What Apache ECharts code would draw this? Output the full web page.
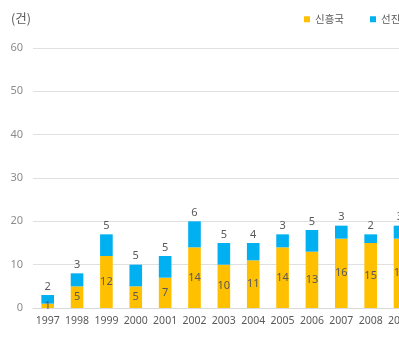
<!DOCTYPE html>
<html>
<head>
<meta charset="utf-8">
<script src="https://cdn.jsdelivr.net/npm/echarts@6/dist/echarts.min.js"></script>
<style>
html,body{margin:0;padding:0;background:#fff;overflow:hidden;}
#c{width:430px;height:342px;}
</style>
</head>
<body>
<div id="c"></div>
<script>
const categories = ['1997','1998','1999','2000','2001','2002','2003','2004','2005','2006','2007','2008','2009'];
const emerging = [1,5,12,5,7,14,10,11,14,13,16,15,16];
const advanced = [2,3,5,5,5,6,5,4,3,5,3,2,3];
const seriesNames = ['신흥국','선진국'];
const yTicks = {min:0, max:60, interval:10};
const unitLabel = '(건)';

const chart = echarts.init(document.getElementById('c'), null, {renderer:'canvas'});
const numFont = "'Noto Sans','Noto Sans CJK KR',sans-serif";
const krFont = "'Noto Sans CJK KR','Noto Sans',sans-serif";
chart.setOption({
  animation:false,
  backgroundColor:'#fff',
  title:{text:unitLabel,left:6,top:7,textStyle:{fontFamily:krFont,fontSize:12.5,fontWeight:'normal',color:'#595959'}},
  legend:{
    left:299, top:9, itemWidth:6, itemHeight:6, itemGap:26, icon:'rect',
    textStyle:{fontFamily:krFont,fontSize:10.5,color:'#595959'},
    data:seriesNames
  },
  grid:{left:33, top:48, width:381.7, height:260},
  xAxis:{
    type:'category', data:categories,
    axisLine:{show:true,lineStyle:{color:'#d9d9d9'}},
    axisTick:{show:false},
    axisLabel:{interval:0,margin:8,fontFamily:numFont,fontSize:10.5,color:'#595959'}
  },
  yAxis:{
    type:'value', min:yTicks.min, max:yTicks.max, interval:yTicks.interval,
    axisLine:{show:false}, axisTick:{show:false},
    splitLine:{lineStyle:{color:'#e0e0e0'}},
    axisLabel:{margin:10,fontFamily:numFont,fontSize:11,color:'#8c8c8c'}
  },
  series:[
    {name:seriesNames[0],type:'bar',stack:'a',data:emerging,barWidth:'43%',
     itemStyle:{color:'#FFC000'},
     label:{show:true,position:'inside',fontFamily:numFont,fontSize:11,color:'#595959'}},
    {name:seriesNames[1],type:'bar',stack:'a',data:advanced,barWidth:'43%',
     itemStyle:{color:'#00B0F0'},
     label:{show:true,position:'top',distance:3,fontFamily:numFont,fontSize:11,color:'#595959'}}
  ]
});
</script>
</body>
</html>
